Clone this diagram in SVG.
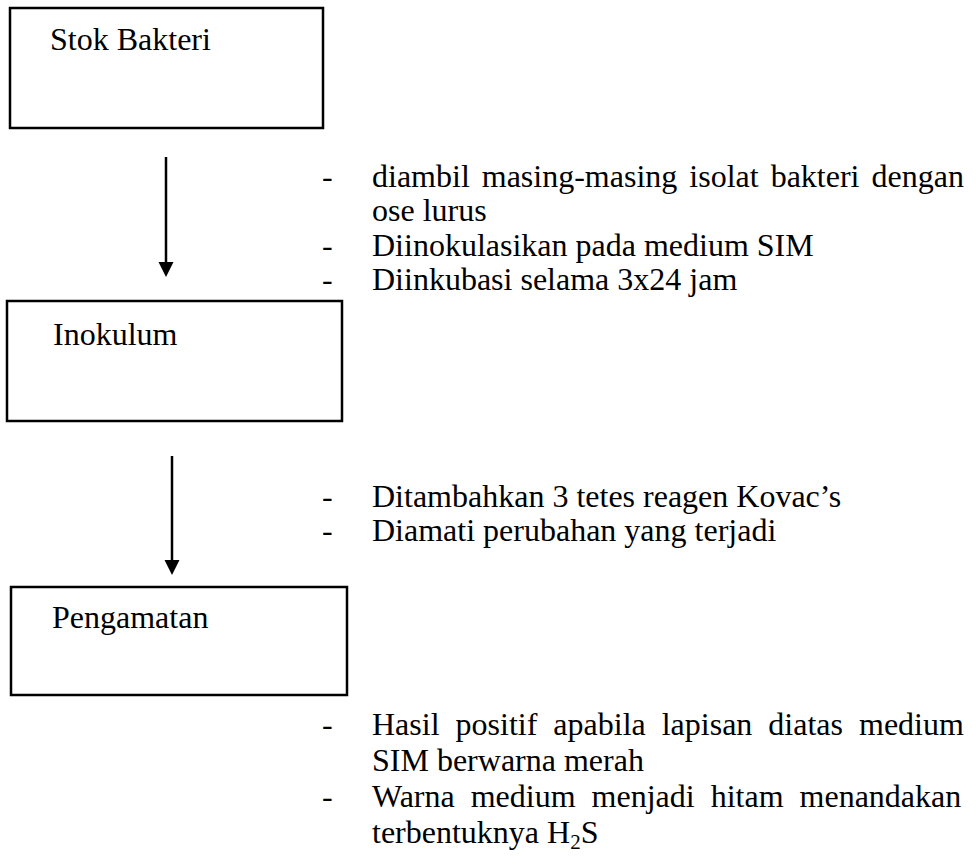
<svg xmlns="http://www.w3.org/2000/svg" width="976" height="856" viewBox="0 0 976 856">
<style>
  .box { fill: #ffffff; stroke: #000000; stroke-width: 2.5; }
  .t { font-family: "Liberation Serif", "Times New Roman", serif; font-size: 32px; fill: #000000; }
  .conn { stroke: #000000; stroke-width: 2.5; fill: none; }
</style>
<rect width="976" height="856" fill="#ffffff"/>

<g id="node-stok">
  <rect class="box" x="10" y="8" width="313" height="120"/>
  <text class="t" x="50" y="50">Stok Bakteri</text>
</g>
<g id="node-inokulum">
  <rect class="box" x="7" y="301" width="335" height="120"/>
  <text class="t" x="53" y="345">Inokulum</text>
</g>
<g id="node-pengamatan">
  <rect class="box" x="11" y="587" width="336" height="108"/>
  <text class="t" x="52" y="628">Pengamatan</text>
</g>

<g id="connectors">
  <line class="conn" x1="166" y1="157" x2="166" y2="263"/>
  <path d="M158.5,262 L173.5,262 L166,277 Z" fill="#000000"/>
  <line class="conn" x1="172" y1="456" x2="172" y2="561"/>
  <path d="M164.5,560 L179.5,560 L172,575 Z" fill="#000000"/>
</g>

<g id="notes-1">
  <text class="t" x="322" y="187">-</text>
  <text class="t" x="372" y="187" word-spacing="4">diambil masing-masing isolat bakteri dengan</text>
  <text class="t" x="372" y="221">ose lurus</text>
  <text class="t" x="322" y="256">-</text>
  <text class="t" x="372" y="256">Diinokulasikan pada medium SIM</text>
  <text class="t" x="322" y="290">-</text>
  <text class="t" x="372" y="290">Diinkubasi selama 3x24 jam</text>
</g>

<g id="notes-2">
  <text class="t" x="322" y="507">-</text>
  <text class="t" x="372" y="507">Ditambahkan 3 tetes reagen Kovac’s</text>
  <text class="t" x="322" y="541">-</text>
  <text class="t" x="372" y="541">Diamati perubahan yang terjadi</text>
</g>

<g id="notes-3">
  <text class="t" x="322" y="735">-</text>
  <text class="t" x="372" y="735" word-spacing="8">Hasil positif apabila lapisan diatas medium</text>
  <text class="t" x="372" y="771">SIM berwarna merah</text>
  <text class="t" x="322" y="807">-</text>
  <text class="t" x="372" y="807" word-spacing="8">Warna medium menjadi hitam menandakan</text>
  <text class="t" x="372" y="843">terbentuknya H<tspan font-size="21" dy="6">2</tspan><tspan dy="-6">S</tspan></text>
</g>
</svg>
